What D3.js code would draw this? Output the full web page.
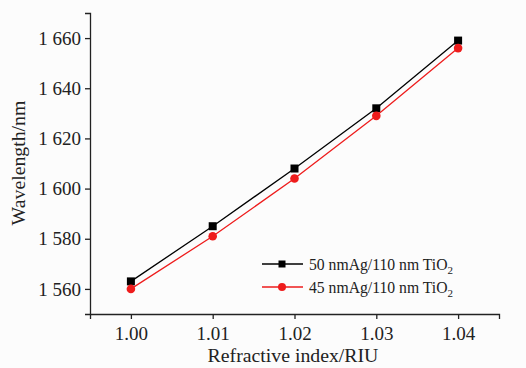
<!DOCTYPE html>
<html>
<head>
<meta charset="utf-8">
<script src="https://cdn.jsdelivr.net/npm/d3@7"></script>
<style>
  body { margin: 0; background: #fcfcfc; }
  svg { font-family: "Liberation Serif", "Times New Roman", serif; }
  .axis path, .axis line { stroke: #222; stroke-width: 1.3; }
  .axis text { font-size: 19px; fill: #222; font-family: "Liberation Serif", "Times New Roman", serif; }
</style>
</head>
<body>
<svg id="chart"></svg>
<script>
// data
const refractiveIndex = [1.00, 1.01, 1.02, 1.03, 1.04]
const wl50Ag = [1563, 1585, 1608, 1632, 1659]
const wl45Ag = [1560, 1581, 1604, 1629, 1656]
const yTicks = [1560, 1580, 1600, 1620, 1640, 1660]

const series = [
  { name: '50 nmAg/110 nm TiO', values: wl50Ag, color: '#000', shape: 'square' },
  { name: '45 nmAg/110 nm TiO', values: wl45Ag, color: '#ee1c1c', shape: 'circle' }
]

let margin = { top: 13, right: 27, bottom: 54, left: 90 }
let width = 526 - margin.left - margin.right
let height = 368 - margin.top - margin.bottom

let svg = d3.select('#chart')
  .attr('width', 526)
  .attr('height', 368)

let g = svg.append('g')
  .attr('transform', 'translate(' + margin.left + ',' + margin.top + ')')

let x = d3.scaleLinear().domain([0.995, 1.045]).range([0, width])
let y = d3.scaleLinear().domain([1550, 1670]).range([height, 0])

// axes
g.append('g')
  .attr('class', 'axis')
  .attr('transform', 'translate(0,' + height + ')')
  .call(d3.axisBottom(x).tickValues(refractiveIndex).tickFormat(d3.format('.2f')).tickSizeOuter(0).tickSize(5).tickPadding(8))

g.append('g')
  .attr('class', 'axis')
  .call(d3.axisLeft(y).tickValues(yTicks)
    .tickFormat(d => Math.floor(d / 1000) + ' ' + d3.format('03d')(d % 1000))
    .tickSizeOuter(0).tickSize(5).tickPadding(4))

// lines and markers
let line = d3.line()
  .x((d, i) => x(refractiveIndex[i]))
  .y(d => y(d))

series.forEach(s => {
  g.append('path')
    .datum(s.values)
    .attr('fill', 'none')
    .attr('stroke', s.color)
    .attr('stroke-width', 1.3)
    .attr('d', line)

  let pts = g.append('g').selectAll('.pt')
    .data(s.values)
    .enter()
  if (s.shape === 'square') {
    pts.append('rect')
      .attr('x', (d, i) => x(refractiveIndex[i]) - 4)
      .attr('y', d => y(d) - 4)
      .attr('width', 8)
      .attr('height', 8)
      .attr('fill', s.color)
  } else {
    pts.append('circle')
      .attr('cx', (d, i) => x(refractiveIndex[i]))
      .attr('cy', d => y(d))
      .attr('r', 4.3)
      .attr('fill', s.color)
  }
})

// legend
let legend = svg.append('g').attr('transform', 'translate(262,264)')
series.forEach((s, i) => {
  let row = legend.append('g').attr('transform', 'translate(0,' + i * 23 + ')')
  row.append('line')
    .attr('x1', 0).attr('x2', 41)
    .attr('stroke', s.color)
    .attr('stroke-width', 1.3)
  if (s.shape === 'square') {
    row.append('rect').attr('x', 16.5).attr('y', -3.5).attr('width', 7).attr('height', 7).attr('fill', s.color)
  } else {
    row.append('circle').attr('cx', 20).attr('r', 4).attr('fill', s.color)
  }
  let t = row.append('text')
    .attr('x', 47)
    .attr('y', 5.5)
    .style('font-size', '15.7px')
    .attr('fill', '#222')
    .text(s.name)
  t.append('tspan')
    .attr('dy', 4)
    .style('font-size', '11px')
    .text('2')
})

// axis titles
svg.append('text')
  .attr('x', 293)
  .attr('y', 362)
  .attr('text-anchor', 'middle')
  .style('font-size', '19.8px')
  .attr('fill', '#222')
  .text('Refractive index/RIU')

svg.append('text')
  .attr('transform', 'translate(25,' + 163 + ') rotate(-90)')
  .attr('text-anchor', 'middle')
  .style('font-size', '19.8px')
  .attr('fill', '#222')
  .text('Wavelength/nm')
</script>
</body>
</html>
